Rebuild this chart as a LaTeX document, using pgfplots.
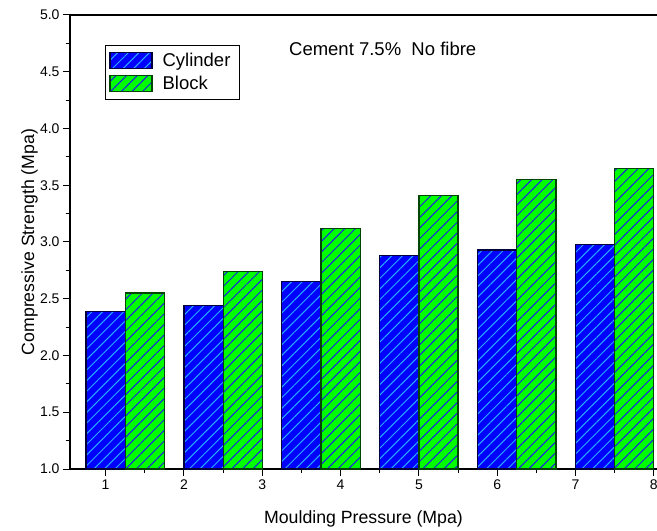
\documentclass[border=0pt]{standalone}
\usepackage{fontspec}
\setmainfont{Liberation Sans}
\usepackage{pgfplots}
\pgfplotsset{compat=1.18}
\usetikzlibrary{patterns.meta}

\definecolor{cylfill}{RGB}{0,0,255}
\definecolor{cylhatch}{RGB}{40,170,255}
\definecolor{cyledge}{RGB}{0,0,60}
\definecolor{blkfill}{RGB}{0,255,0}
\definecolor{blkhatch}{RGB}{30,30,230}
\definecolor{blkedge}{RGB}{0,70,0}

\begin{document}
\begin{tikzpicture}
\begin{axis}[
  at={(0,0)}, anchor=south west,
  scale only axis, width=587bp, height=454bp,
  xmin=0.545, xmax=8.04, ymin=1, ymax=5,
  axis x line*=box, axis y line*=left,
  xtick pos=left, ytick pos=left,
  axis line style={line width=1.2bp, black},
  xtick={1,...,8}, minor x tick num=1,
  ytick={1,1.5,...,5}, minor y tick num=1,
  tick align=outside,
  major tick length=7bp, minor tick length=4bp,
  every tick/.style={black, line width=1bp},
  /pgf/number format/assume math mode=true,
  yticklabel style={/pgf/number format/.cd, fixed, fixed zerofill, precision=1},
  ticklabel style={font=\fontsize{14bp}{16bp}\selectfont},
  xlabel={Moulding Pressure (Mpa)},
  ylabel={Compressive Strength (Mpa)},
  label style={font=\fontsize{17.7bp}{20bp}\selectfont},
  xlabel style={at={(axis description cs:0.5,-0.1211)}, anchor=base},
  ylabel style={at={(axis description cs:-0.0613,0.5)}, anchor=base},
  ybar, bar width=0.5, bar shift=0pt,
  legend style={at={(axis description cs:0.0596,0.9339)}, anchor=north west,
    draw=black, line width=0.8bp, inner xsep=4bp, inner ysep=6.5bp,
    row sep=5bp, font=\fontsize{18.5bp}{20bp}\selectfont,
    nodes={inner xsep=5bp, inner ysep=1.5bp}},
  legend cell align=left,
  legend image code/.code={\draw[#1] (0bp,-8bp) rectangle (42bp,8bp);},
]
\addplot[draw=cyledge, line width=1.2bp, fill=cylfill,
  postaction={pattern={Lines[angle=45,distance=7.5bp,line width=1bp]}, pattern color=cylhatch}]
  coordinates {(1,2.39) (2.25,2.44) (3.5,2.65) (4.75,2.88) (6,2.93) (7.25,2.98)};
\addlegendentry{\hspace{5bp}Cylinder\hspace{7bp}}
\addplot[draw=blkedge, line width=1.2bp, fill=blkfill,
  postaction={pattern={Lines[angle=45,distance=7.5bp,line width=1bp]}, pattern color=blkhatch}]
  coordinates {(1.5,2.55) (2.75,2.74) (4,3.12) (5.25,3.41) (6.5,3.55) (7.75,3.65)};
\addlegendentry{\hspace{5bp}Block}
\node[anchor=base west, inner sep=0pt, font=\fontsize{18.5bp}{20bp}\selectfont]
  at (axis description cs:0.373,0.910) {Cement 7.5\%\ \ No fibre};
\end{axis}
\pgfresetboundingbox
\useasboundingbox (-70bp,-62bp) rectangle (587bp,469bp);
\end{tikzpicture}
\end{document}
